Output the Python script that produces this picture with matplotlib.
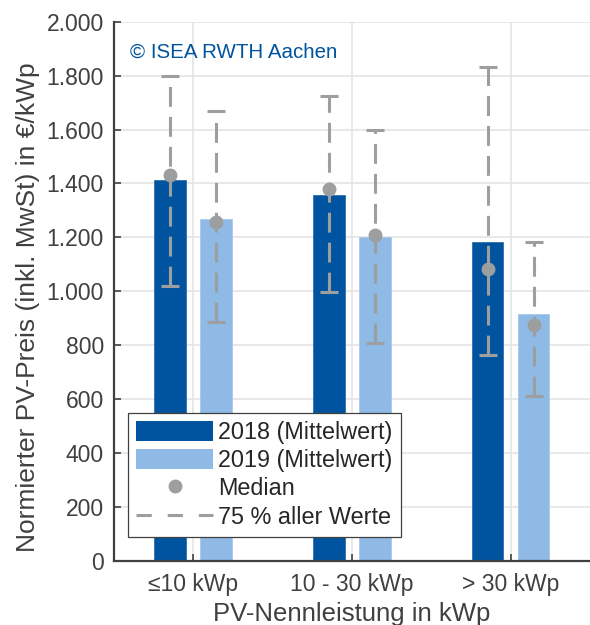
import matplotlib
matplotlib.use("Agg")
import matplotlib.pyplot as plt
from matplotlib.lines import Line2D
from matplotlib.patches import Patch
import numpy as np

plt.rcParams["font.family"] = ["Liberation Sans", "DejaVu Sans"]

# PV system price by size class (EUR/kWp incl. VAT)
categories = ["≤10 kWp", "10 - 30 kWp", "> 30 kWp"]
mean_2018 = [1414, 1356, 1183]
mean_2019 = [1268, 1200, 917]
median_2018 = [1432, 1379, 1084]
median_2019 = [1257, 1209, 873]
low_2018 = [1019, 999, 765]
high_2018 = [1799, 1725, 1831]
low_2019 = [885, 807, 610]
high_2019 = [1669, 1598, 1184]
y_ticks = [0, 200, 400, 600, 800, 1000, 1200, 1400, 1600, 1800, 2000]
y_tick_labels = ["0", "200", "400", "600", "800", "1.000", "1.200",
                 "1.400", "1.600", "1.800", "2.000"]

DARK = "#00549F"
LIGHT = "#8EBAE5"
GREY = "#9C9E9F"
AXIS = "#404040"

fig = plt.figure(figsize=(5.9, 6.25), dpi=100)
ax = fig.add_axes([0.1924, 0.1030, 0.8076, 0.8620])

x = np.arange(1, len(categories) + 1)
offset = 0.145
width = 0.2

ax.bar(x - offset, mean_2018, width, color=DARK, edgecolor="#2f6fb0",
       linewidth=0.6, zorder=2)
ax.bar(x + offset, mean_2019, width, color=LIGHT, edgecolor="#a6c8ea",
       linewidth=0.6, zorder=2)

cap_half = 0.057
dash = (6.5, 3.3)
for xs, lo, hi, med in [(x - offset, low_2018, high_2018, median_2018),
                        (x + offset, low_2019, high_2019, median_2019)]:
    for xi, l, h in zip(xs, lo, hi):
        ax.plot([xi, xi], [l, h], color=GREY, lw=2.2, dashes=dash,
                solid_capstyle="butt", dash_capstyle="butt", zorder=3)
    ax.hlines(lo, xs - cap_half, xs + cap_half, color=GREY, lw=2.2, zorder=3)
    ax.hlines(hi, xs - cap_half, xs + cap_half, color=GREY, lw=2.2, zorder=3)
    ax.plot(xs, med, "o", color=GREY, ms=9, zorder=4, linestyle="none")

ax.set_xlim(0.5, 3.5)
ax.set_ylim(0, 2000)
ax.set_xticks(x)
ax.set_xticklabels(categories)
ax.set_yticks(y_ticks)
ax.set_yticklabels(y_tick_labels)

ax.grid(True, color="#e1e1e1", lw=1.1, zorder=0)
ax.set_axisbelow(True)
for side in ["top", "right"]:
    ax.spines[side].set_visible(False)
for side in ["left", "bottom"]:
    ax.spines[side].set_color(AXIS)
    ax.spines[side].set_linewidth(1.6)
    ax.spines[side].set_zorder(5)

ax.tick_params(axis="both", direction="in", length=5, width=1.2, color=AXIS,
               labelsize=16.5, labelcolor=AXIS)
ax.tick_params(axis="y", pad=7)
ax.tick_params(axis="x", pad=9)

ax.set_ylabel("Normierter PV-Preis (inkl. MwSt) in €/kWp", fontsize=19,
              color=AXIS)
ax.yaxis.set_label_coords(-0.155, 0.47)
ax.set_xlabel("PV-Nennleistung in kWp", fontsize=18.5, color=AXIS,
              labelpad=4)

ax.text(0.034, 0.944, "© ISEA RWTH Aachen", transform=ax.transAxes,
        fontsize=14.8, color=DARK, va="center", ha="left")

handles = [
    Patch(facecolor=DARK, edgecolor="none"),
    Patch(facecolor=LIGHT, edgecolor="none"),
    Line2D([], [], marker="o", color=GREY, ms=9, linestyle="none"),
    Line2D([], [], color=GREY, lw=2.2, dashes=(5, 5.2)),
]
labels = ["2018 (Mittelwert)", "2019 (Mittelwert)", "Median",
          "75 % aller Werte"]
leg = ax.legend(handles, labels, loc="lower left",
                bbox_to_anchor=(0.030, 0.044), borderaxespad=0,
                fontsize=16.8, handlelength=3.3, handleheight=0.92,
                handletextpad=0.22, labelspacing=0.22, borderpad=0.36,
                frameon=True, fancybox=False, framealpha=1)
leg.get_frame().set_edgecolor(AXIS)
leg.get_frame().set_linewidth(0.9)
leg.set_zorder(6)
for t in leg.get_texts():
    t.set_color("#262626")

fig.savefig("out.png", dpi=100)
